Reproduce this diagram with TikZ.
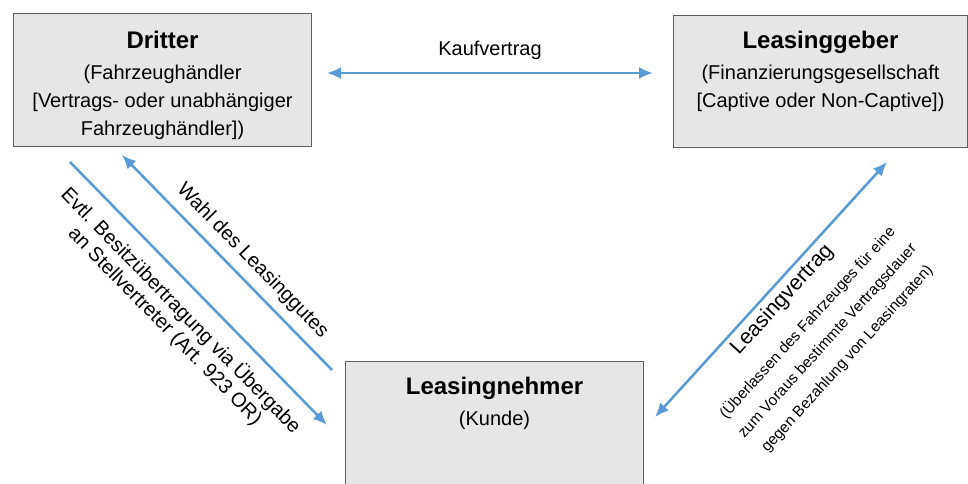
\documentclass[tikz,border=0pt]{standalone}
\usepackage{fontspec}
\setmainfont{Liberation Sans}
\usetikzlibrary{arrows.meta, positioning}
\definecolor{boxfill}{RGB}{230, 230, 230}
\definecolor{boxline}{RGB}{95, 95, 95}
\definecolor{flowblue}{RGB}{91, 155, 213}
\tikzset{
    partybox/.style={draw=boxline, fill=boxfill, line width=.8pt,
        anchor=north west, inner sep=0pt},
    partytext/.style={anchor=north, align=center, inner sep=0pt,
        font=\fontsize{15}{21}\selectfont},
    flow/.style={draw=flowblue, line width=1.9pt,
        >={Latex[length=10.5pt, width=9pt]}},
    flowlabel/.style={inner sep=0pt, align=center,
        font=\fontsize{15}{16.5}\selectfont},
    smalllabel/.style={inner sep=0pt, align=center,
        font=\fontsize{11.5}{20}\selectfont},
}
\newcommand{\partyname}[1]{{\fontsize{18}{21}\selectfont\bfseries #1}\\[2pt]}

\begin{document}
\begin{tikzpicture}[x=.75pt, y=-.75pt]
    \useasboundingbox (0, 0) rectangle (968, 484);
    % the three parties
    \node[partybox, minimum width=223.5pt, minimum height=99.75pt]
        (dritter) at (13, 13) {};
    \node[partybox, minimum width=220.5pt, minimum height=99pt]
        (geber) at (673, 15) {};
    \node[partybox, minimum width=223.5pt, minimum height=150pt]
        (nehmer) at (345, 361) {};
    \node[partytext, below=13.5pt of dritter.north] (dritterText)
        {\partyname{Dritter}(Fahrzeughändler\\{[Vertrags- oder unabhängiger}\\
        Fahrzeughändler])};
    \node[partytext, below=12pt of geber.north] (geberText)
        {\partyname{Leasinggeber}(Finanzierungsgesellschaft\\
        {[Captive oder Non-Captive])}};
    \node[partytext, below=12pt of nehmer.north] (nehmerText)
        {\partyname{Leasingnehmer}(Kunde)};
    % arrow ends
    \coordinate (kaufL) at (327, 73);
    \coordinate (kaufR) at (653, 73);
    \coordinate (evtlA) at (70, 162);
    \coordinate (evtlB) at (327, 425);
    \coordinate (wahlA) at (332, 370);
    \coordinate (wahlB) at (122, 155);
    \coordinate (vertragA) at (655, 417);
    \coordinate (vertragB) at (887, 162);
    \draw[flow, <->] (kaufL) -- (kaufR)
        node[flowlabel, midway, above=8.7pt] (kaufLabel) {Kaufvertrag};
    \draw[flow, ->] (evtlA) -- (evtlB)
        node[flowlabel, midway, sloped, below, outer sep=10.5pt] (evtlLabel)
        {Evtl. Besitzübertragung via Übergabe\\an Stellvertreter (Art. 923 OR)};
    \draw[flow, ->] (wahlA) -- (wahlB)
        node[flowlabel, pos=.445, sloped, above, outer sep=7.5pt] (wahlLabel)
        {Wahl des Leasinggutes};
    \draw[flow, <->] (vertragA) -- (vertragB)
        node[smalllabel, midway, sloped, below, outer sep=4pt] (vertragLabel)
        {{\fontsize{16}{20}\selectfont Leasingvertrag}\\[5pt]
        (Überlassen des Fahrzeuges für eine\\
        zum Voraus bestimmte Vertragsdauer\\
        gegen Bezahlung von Leasingraten)};
\end{tikzpicture}
\end{document}
